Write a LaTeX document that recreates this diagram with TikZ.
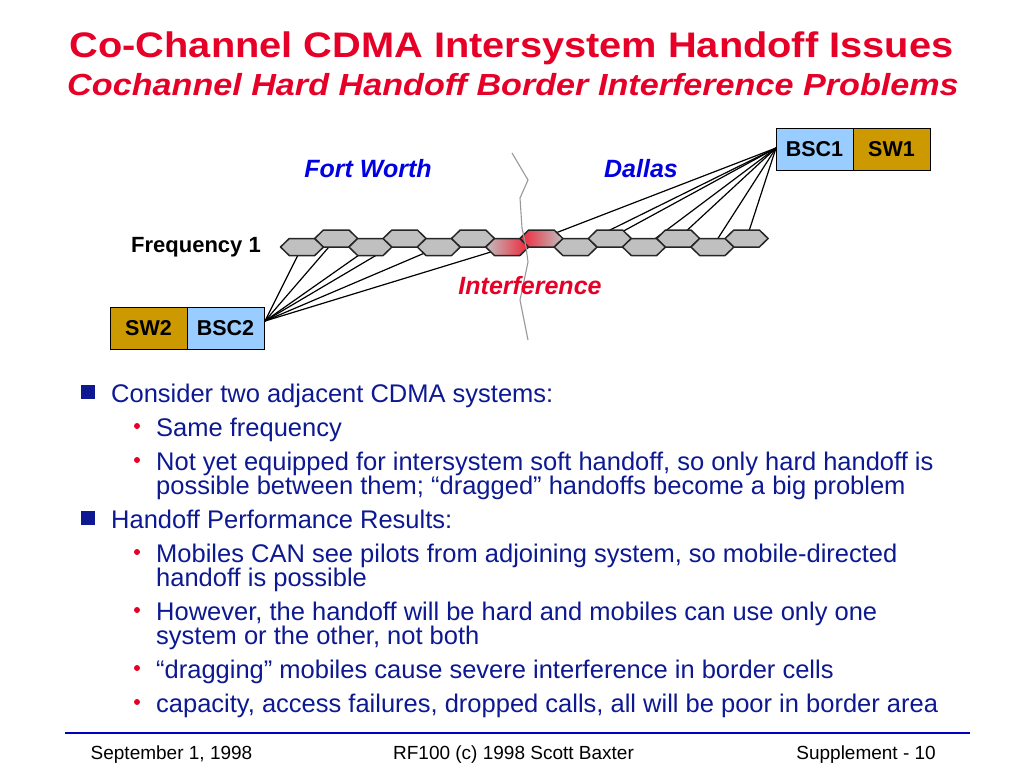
\documentclass[tikz,border=0pt]{standalone}
\usepackage{fontspec}
\setmainfont{Liberation Sans}
\newfontfamily\titlefont[FakeStretch=1.12]{Liberation Sans}
\usetikzlibrary{positioning}

\definecolor{titlered}{RGB}{230,0,40}
\definecolor{textblue}{RGB}{13,25,145}
\definecolor{cityblue}{RGB}{0,0,225}
\definecolor{swgold}{RGB}{204,153,0}
\definecolor{bscblue}{RGB}{153,204,255}
\definecolor{cellgray}{RGB}{192,192,192}
\definecolor{hotred}{RGB}{240,35,55}
\definecolor{rulerblue}{RGB}{0,0,190}

\tikzset{
  cell/.style={draw=black!85, line width=1.5pt, line join=round, fill=cellgray},
  box/.style={draw, line width=1pt, minimum width=77pt, minimum height=42pt,
    inner sep=0pt, outer sep=0pt, font=\bfseries\fontsize{21.5}{24}\selectfont},
  wire/.style={line width=1.2pt},
  city/.style={anchor=base, inner sep=0pt, text=cityblue,
    font=\bfseries\itshape\fontsize{25}{30}\selectfont},
  item/.style={anchor=base west, inner sep=0pt, text=textblue,
    font=\fontsize{25.5}{30}\selectfont},
  sqbullet/.style={fill=textblue, inner sep=0pt, minimum size=14pt},
  dotbullet/.style={circle, fill=titlered, inner sep=0pt, minimum size=6pt},
  foot/.style={anchor=base, inner sep=0pt, font=\fontsize{19}{22}\selectfont}
}

% one hexagonal cell round a named centre
\newcommand{\cellhex}[2]{%
  \path[cell,#2,shift={(#1)}] (-21.5,0) -- (-12.75,-8.5) -- (12.75,-8.5)
    -- (21.5,0) -- (12.75,8.5) -- (-12.75,8.5) -- cycle;}

\begin{document}
\begin{tikzpicture}[x=1pt, y=-1pt]
  \def\pitch{68.4}   % cell spacing along the row
  \def\ylow{247}
  \def\yup{238.5}

  \fill[white] (0,0) rectangle (1024,768);
  \useasboundingbox (0,0) rectangle (1024,768);

  % ----- title -----
  \node[anchor=base, inner sep=0pt, text=titlered,
    font=\titlefont\bfseries\fontsize{35.5}{40}\selectfont]
    (title) at (511.5,57) {Co-Channel CDMA Intersystem Handoff Issues};
  \node[anchor=base, inner sep=0pt, text=titlered,
    font=\titlefont\bfseries\itshape\fontsize{30.5}{36}\selectfont]
    (subtitle) at (513,95) {Cochannel Hard Handoff Border Interference Problems};

  % ----- cells of frequency 1 -----
  \foreach \k in {0,...,6} {
    \pgfmathsetmacro{\xl}{302+\pitch*\k}
    \pgfmathsetmacro{\xu}{336.2+\pitch*\k}
    \coordinate (l\k) at (\xl,\ylow);
    \coordinate (u\k) at (\xu,\yup);
  }

  % ----- switches -----
  \node[box, fill=bscblue] (bsc2) at (225.5,328) {BSC2};
  \node[box, fill=swgold, left=0pt of bsc2] (sw2) {SW2};
  \node[box, fill=bscblue] (bsc1) at (814.5,149) {BSC1};
  \node[box, fill=swgold, right=0pt of bsc1] (sw1) {SW1};
  \coordinate (hub2) at (265,321);
  \coordinate (hub1) at (776,148);

  \foreach \t in {l0,u0,l1,u1,l2,l3}
    \draw[wire] (hub2) -- (\t);
  \foreach \t in {u3,l4,u4,l5,u5,l6,u6}
    \draw[wire] (hub1) -- (\t);

  \foreach \k in {0,1,2,4,5,6} {
    \cellhex{l\k}{}
    \cellhex{u\k}{}
  }
  \cellhex{l3}{left color=cellgray, right color=hotred}
  \cellhex{u3}{left color=hotred, right color=cellgray}

  % system border
  \draw[gray!80, line width=1.1pt] (512,153) -- (528,180) -- (520,198)
    -- (522,228) -- (526,247) -- (528,262) -- (520,300) -- (528,340);

  % ----- labels -----
  \node[city] (fw) at (368,177) {Fort Worth};
  \node[city] (dal) at (641,177) {Dallas};
  \node[city, text=titlered] (intf) at (530,294) {Interference};
  \node[anchor=base east, inner sep=0pt, font=\bfseries\fontsize{22}{24}\selectfont]
    (freq) at (261,252) {Frequency 1};

  % ----- bullets -----
  \node[sqbullet] (b1) at (88,391.5) {};
  \node[item] at (111,402) {Consider two adjacent CDMA systems:};
  \node[dotbullet] at (137,426) {};
  \node[item] at (156,436) {Same frequency};
  \node[dotbullet] at (137,460) {};
  \node[item] at (156,470) {Not yet equipped for intersystem soft handoff, so only hard handoff is};
  \node[item] at (156,494) {possible between them; “dragged” handoffs become a big problem};
  \node[sqbullet] (b2) at (88,517.5) {};
  \node[item] at (111,528) {Handoff Performance Results:};
  \node[dotbullet] at (137,552) {};
  \node[item] at (156,562) {Mobiles CAN see pilots from adjoining system, so mobile-directed};
  \node[item] at (156,586) {handoff is possible};
  \node[dotbullet] at (137,610) {};
  \node[item] at (156,620) {However, the handoff will be hard and mobiles can use only one};
  \node[item] at (156,644) {system or the other, not both};
  \node[dotbullet] at (137,668) {};
  \node[item] at (156,678) {“dragging” mobiles cause severe interference in border cells};
  \node[dotbullet] at (137,702) {};
  \node[item] at (156,712) {capacity, access failures, dropped calls, all will be poor in border area};

  % ----- footer -----
  \coordinate (ruleL) at (65,733);
  \coordinate (ruleR) at (970,733);
  \draw[rulerblue, line width=1.6pt] (ruleL) -- (ruleR);
  \node[foot] (date) at (171.5,759) {September 1, 1998};
  \node[foot] (credit) at (513.5,759) {RF100 (c) 1998 Scott Baxter};
  \node[foot, anchor=base east] (page) at (936,759) {Supplement - 10};
\end{tikzpicture}
\end{document}
